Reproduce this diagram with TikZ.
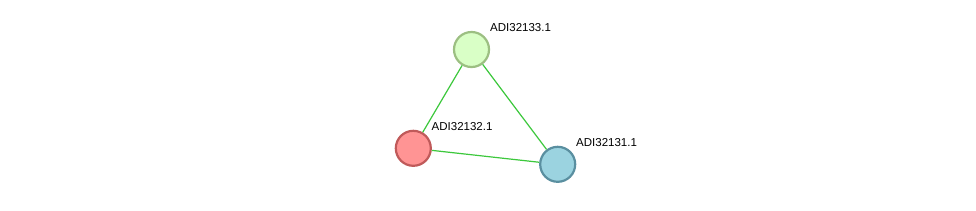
\documentclass[tikz,border=0pt]{standalone}
\usepackage{fontspec}
\setmainfont{Liberation Sans}
\definecolor{gfill}{HTML}{D9FFC6}
\definecolor{gline}{HTML}{9CBF82}
\definecolor{rfill}{HTML}{FF9494}
\definecolor{rline}{HTML}{C05A5A}
\definecolor{bfill}{HTML}{9BD3E0}
\definecolor{bline}{HTML}{5A8FA0}
\definecolor{edge}{HTML}{3CC83C}
\begin{document}
\begin{tikzpicture}[x=1pt,y=-1pt,
  prot/.style={circle,minimum size=35pt,inner sep=0pt,line width=2.2pt},
  lbl/.style={anchor=west,font=\fontsize{11.5pt}{13pt}\selectfont,inner sep=0pt},
  link/.style={draw=edge,line width=1.2pt}]
\useasboundingbox (0,0) rectangle (976,210);
\fill[white] (0,0) rectangle (976,210);
\node[prot,fill=gfill,draw=gline] (a) at (471.5,49.5) {};
\node[prot,fill=rfill,draw=rline] (b) at (413.3,148.3) {};
\node[prot,fill=bfill,draw=bline] (c) at (557.7,164.3) {};
\begin{scope}[on background layer/.try]
\end{scope}
\draw[link] (a) -- (b);
\draw[link] (a) -- (c);
\draw[link] (b) -- (c);
\node[lbl] (la) at (490,27.5) {ADI32133.1};
\node[lbl] (lb) at (431.5,126.7) {ADI32132.1};
\node[lbl] (lc) at (576,142.7) {ADI32131.1};
\end{tikzpicture}
\end{document}
